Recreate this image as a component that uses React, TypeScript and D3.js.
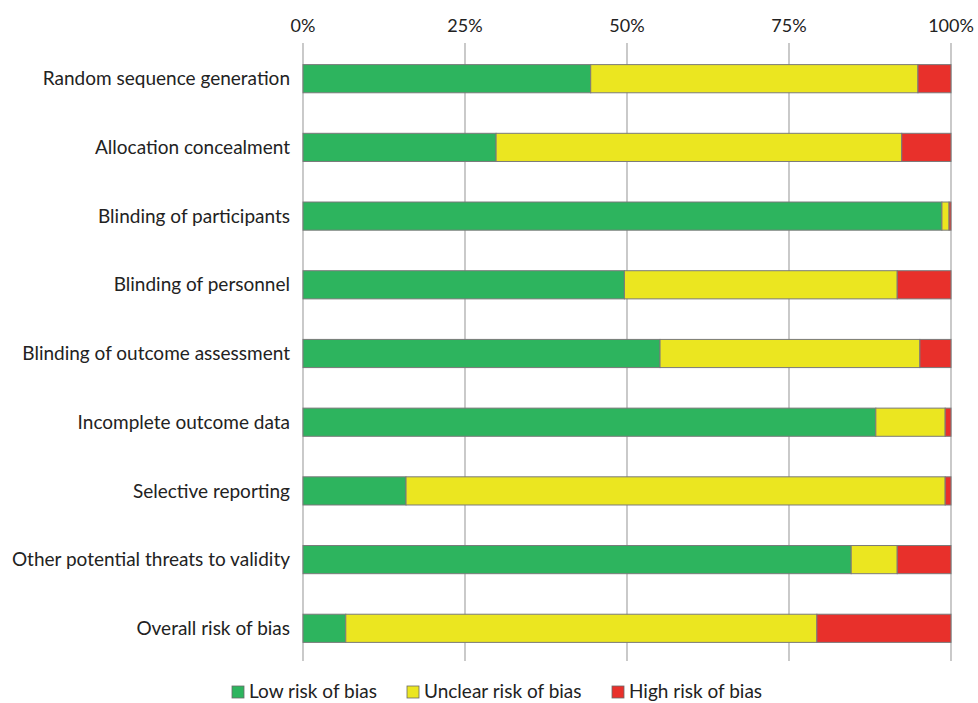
import { useEffect, useRef } from 'react';
import * as d3 from 'd3';

const domains = [
  'Random sequence generation',
  'Allocation concealment',
  'Blinding of participants',
  'Blinding of personnel',
  'Blinding of outcome assessment',
  'Incomplete outcome data',
  'Selective reporting',
  'Other potential threats to validity',
  'Overall risk of bias',
];

// percentages per domain
const lowRisk = [44.4, 29.8, 98.6, 49.6, 55.1, 88.4, 15.9, 84.6, 6.6];
const unclearRisk = [50.5, 62.6, 1.1, 42.1, 40.1, 10.7, 83.2, 7.1, 72.7];
const highRisk = [5.1, 7.6, 0.3, 8.3, 4.8, 0.9, 0.9, 8.3, 20.7];

const tickValues = [0, 25, 50, 75, 100];

const seriesNames = ['Low risk of bias', 'Unclear risk of bias', 'High risk of bias'];
const seriesColors = ['#2db45e', '#ebe620', '#e8302b'];

export default function App() {
  const svgRef = useRef<SVGSVGElement>(null);

  useEffect(() => {
    if (!svgRef.current) return;
    const svg = d3.select(svgRef.current);
    svg.selectAll('*').remove();

    const font = 'Lato, "Open Sans", sans-serif';
    const left = 303;
    const right = 951;
    const top = 44;
    const bottom = 663;

    const rows = domains.map((d, i) => ({
      domain: d,
      low: lowRisk[i],
      unclear: unclearRisk[i],
      high: highRisk[i],
    }));

    const x = d3.scaleLinear().domain([0, 100]).range([left, right]);
    const y = d3.scaleBand().domain(domains).range([top, bottom]).paddingInner(0.59).paddingOuter(0.3);

    // gridlines
    svg.append('g')
      .selectAll('line')
      .data(tickValues)
      .enter()
      .append('line')
      .attr('x1', d => x(d))
      .attr('x2', d => x(d))
      .attr('y1', 43)
      .attr('y2', 661)
      .attr('stroke', '#a6a6a6')
      .attr('stroke-width', 1.2);

    // tick labels
    svg.append('g')
      .selectAll('text')
      .data(tickValues)
      .enter()
      .append('text')
      .attr('x', d => x(d))
      .attr('y', 32)
      .attr('text-anchor', 'middle')
      .style('font-family', font)
      .style('font-size', '18px')
      .attr('fill', '#222')
      .text(d => `${d}%`);

    // stacked bars
    const stack = d3.stack<any>().keys(['low', 'unclear', 'high']);
    const series = stack(rows);

    svg.append('g')
      .selectAll('g')
      .data(series)
      .enter()
      .append('g')
      .attr('fill', (_, i) => seriesColors[i])
      .selectAll('rect')
      .data(d => d)
      .enter()
      .append('rect')
      .attr('x', d => x(d[0]))
      .attr('width', d => Math.max(0, x(Math.min(100, d[1])) - x(d[0])))
      .attr('y', d => y(d.data.domain)!)
      .attr('height', y.bandwidth())
      .attr('stroke', '#7a7a7a')
      .attr('stroke-width', 1);

    // category labels
    svg.append('g')
      .selectAll('text')
      .data(domains)
      .enter()
      .append('text')
      .attr('x', 290)
      .attr('y', d => y(d)! + y.bandwidth() / 2)
      .attr('dy', '0.35em')
      .attr('text-anchor', 'end')
      .style('font-family', font)
      .style('font-size', '19px')
      .attr('fill', '#222')
      .text(d => d);

    // legend
    const legendX = [232, 407, 612];
    const legend = svg.append('g');
    seriesNames.forEach((name, i) => {
      legend.append('rect')
        .attr('x', legendX[i])
        .attr('y', 686)
        .attr('width', 12)
        .attr('height', 12)
        .attr('fill', seriesColors[i])
        .attr('stroke', '#6a6a6a')
        .attr('stroke-width', 0.8);
      legend.append('text')
        .attr('x', legendX[i] + 17)
        .attr('y', 698)
        .style('font-family', font)
        .style('font-size', '19px')
        .attr('fill', '#222')
        .text(name);
    });
  }, []);

  return (
    <div style={{ position: 'absolute', left: 0, top: 0 }}>
      <svg ref={svgRef} width={978} height={703} style={{ display: 'block', background: '#fff' }} />
    </div>
  );
}
